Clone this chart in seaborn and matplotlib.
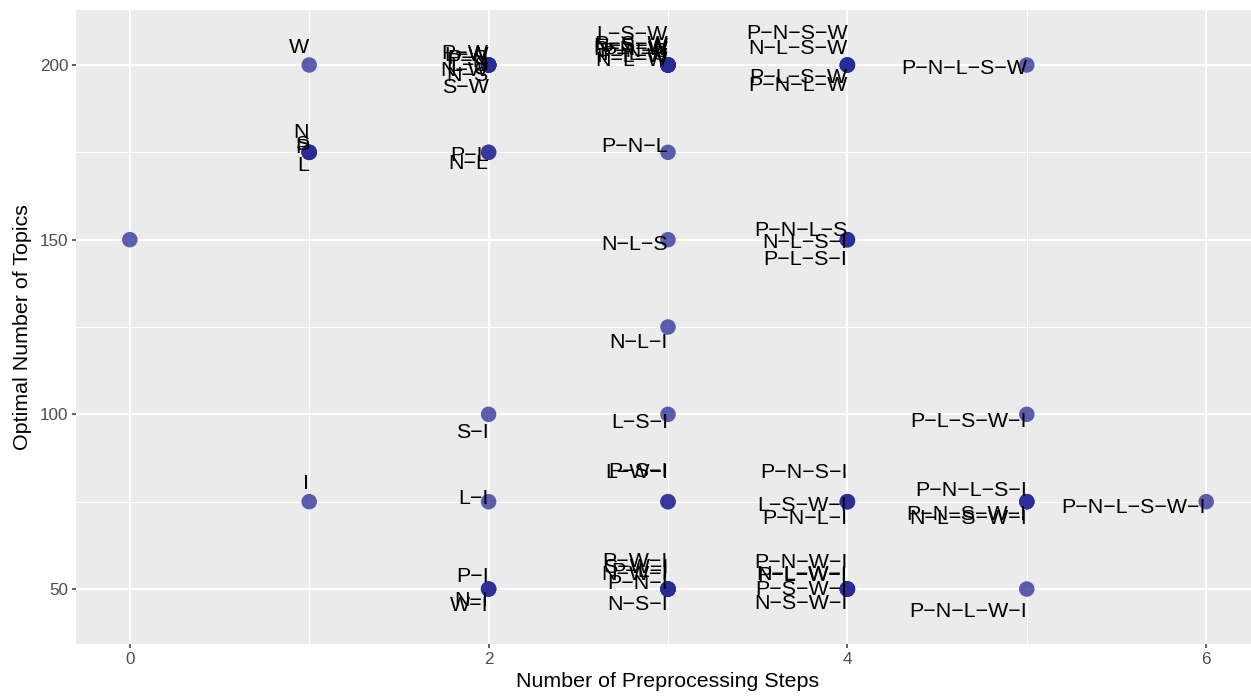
import matplotlib
matplotlib.use("Agg")
import matplotlib.pyplot as plt
import seaborn as sns
import pandas as pd
from matplotlib.ticker import MultipleLocator

# preprocessing combination, number of steps, optimal topics, label height
combo = ["",
         "P", "N", "L", "S", "W", "I",
         "P-N", "P-L", "P-S", "P-W", "P-I", "N-L", "N-S", "N-W", "N-I",
         "L-S", "L-W", "L-I", "S-W", "S-I", "W-I",
         "P-N-L", "P-N-S", "P-N-W", "P-N-I", "P-L-S", "P-L-W", "P-L-I", "P-S-W",
         "P-S-I", "P-W-I", "N-L-S", "N-L-W", "N-L-I", "N-S-W", "N-S-I", "N-W-I",
         "L-S-W", "L-S-I", "L-W-I", "S-W-I",
         "P-N-L-S", "P-N-L-W", "P-N-L-I", "P-N-S-W", "P-N-S-I", "P-N-W-I",
         "P-L-S-W", "P-L-S-I", "P-L-W-I", "P-S-W-I", "N-L-S-W", "N-L-S-I",
         "N-L-W-I", "N-S-W-I", "L-S-W-I",
         "P-N-L-S-W", "P-N-L-S-I", "P-N-L-W-I", "P-N-S-W-I", "P-L-S-W-I",
         "N-L-S-W-I",
         "P-N-L-S-W-I"]
steps = [0,
         1, 1, 1, 1, 1, 1,
         2, 2, 2, 2, 2, 2, 2, 2, 2, 2, 2, 2, 2, 2, 2,
         3, 3, 3, 3, 3, 3, 3, 3, 3, 3, 3, 3, 3, 3, 3, 3, 3, 3, 3, 3,
         4, 4, 4, 4, 4, 4, 4, 4, 4, 4, 4, 4, 4, 4, 4,
         5, 5, 5, 5, 5, 5,
         6]
topics = [150,
          175, 175, 175, 175, 200, 75,
          200, 175, 200, 200, 50, 175, 200, 200, 50,
          200, 200, 75, 200, 100, 50,
          175, 200, 200, 50, 200, 200, 50, 200,
          75, 50, 150, 200, 125, 200, 50, 50,
          200, 100, 75, 50,
          150, 200, 75, 200, 75, 50,
          200, 150, 50, 50, 200, 150,
          50, 50, 75,
          200, 75, 50, 75, 100,
          75,
          75]
label_y = [150,
           177.0, 181.3, 171.8, 177.8, 205.7, 80.9,
           201.5, 174.8, 202.5, 204.0, 54.3, 172.4, 197.5, 199.0, 47.4,
           200.5, 203.2, 76.6, 194.3, 95.5, 46.0,
           177.4, 204.5, 205.0, 52.3, 203.5, 203.0, 55.5, 206.6,
           84.3, 58.6, 149.3, 202.0, 121.3, 205.8, 46.3, 54.9,
           209.4, 98.4, 84.0, 56.9,
           153.3, 194.8, 70.9, 209.7, 84.0, 58.3,
           197.1, 145.0, 54.6, 50.6, 205.2, 149.9,
           54.9, 46.5, 74.6,
           199.7, 78.9, 44.3, 72.0, 98.7,
           70.9,
           74.0]

df = pd.DataFrame({"combo": combo, "steps": steps, "topics": topics, "label_y": label_y})

sns.set_theme(style="darkgrid", rc={"axes.facecolor": "#EBEBEB", "grid.color": "white"})
plt.rcParams['font.family'] = ['Liberation Sans', 'DejaVu Sans']

fig = plt.figure(figsize=(12.51, 6.98), dpi=100)
ax = fig.add_axes([76 / 1251, 54 / 698, 1184 / 1251, 634 / 698])

sns.scatterplot(data=df, x="steps", y="topics", color="#2B2B97", alpha=0.75,
                s=125, edgecolor="none", linewidth=0, ax=ax, zorder=3)

for _, row in df.iterrows():
    ax.annotate(row["combo"].replace("-", "\u2212"), (row["steps"], row["label_y"]),
                xytext=(0, -5.5), textcoords="offset points", ha="right", va="baseline",
                fontsize=15.4, color="black", zorder=5, annotation_clip=False)

ax.set_xlim(-0.3, 6.3)
ax.set_ylim(34.26, 215.74)
ax.set_xticks([0, 2, 4, 6])
ax.set_yticks([50, 100, 150, 200])
ax.xaxis.set_minor_locator(MultipleLocator(1))
ax.yaxis.set_minor_locator(MultipleLocator(25))
ax.grid(which="major", color="white", linewidth=1.5)
ax.grid(which="minor", color="white", linewidth=0.75)
ax.set_axisbelow(True)
for s in ax.spines.values():
    s.set_visible(False)
ax.tick_params(which="major", bottom=True, left=True, length=3, width=1.1,
               color="#333333", labelcolor="#4D4D4D", labelsize=12.3, pad=2.5)
ax.tick_params(which="minor", length=0)

ax.set_xlabel("Number of Preprocessing Steps", fontsize=15.4, color="black", labelpad=4)
ax.set_ylabel("Optimal Number of Topics", fontsize=15.4, color="black", labelpad=6)

fig.savefig("out.png", dpi=100)
plt.close()
